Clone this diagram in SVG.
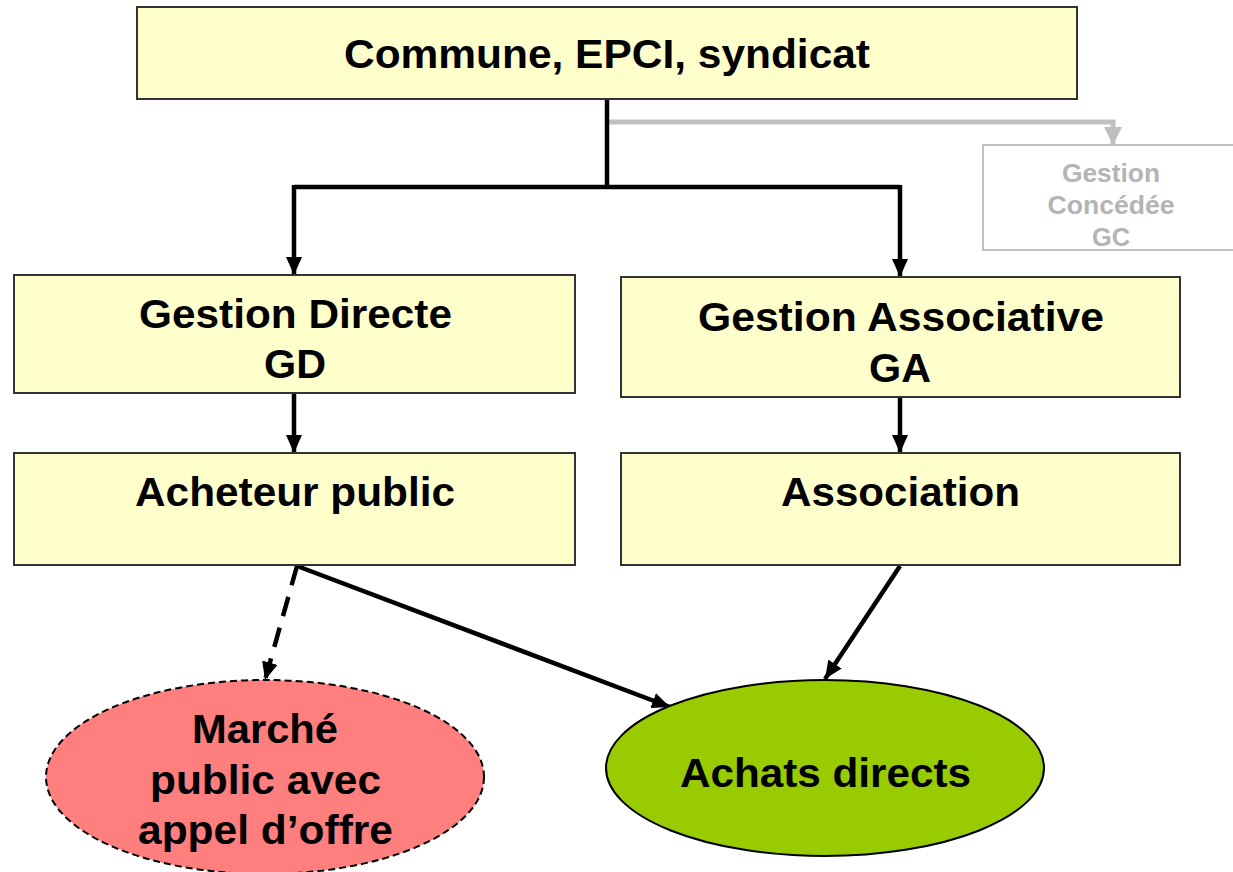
<svg xmlns="http://www.w3.org/2000/svg" width="1233" height="872" viewBox="0 0 1233 872">
<style>
.box{fill:#FFFFCC;stroke:#333;stroke-width:2}
.t{font-family:"Liberation Sans",Arial,sans-serif;font-weight:bold;font-size:40px;fill:#000;text-anchor:middle}
.g{font-family:"Liberation Sans",Arial,sans-serif;font-weight:bold;font-size:26px;fill:#B4B4B4;text-anchor:middle}
.c{fill:none;stroke:#000;stroke-width:4.5}
</style>
<defs>
<marker id="ah" markerWidth="18" markerHeight="16" refX="18" refY="8" orient="auto" markerUnits="userSpaceOnUse"><path d="M0,0 L18,8 L0,16 Z" fill="#000"/></marker>
<marker id="ahg" markerWidth="18" markerHeight="18" refX="18" refY="9" orient="auto" markerUnits="userSpaceOnUse"><path d="M0,0 L18,9 L0,18 Z" fill="#BEBEBE"/></marker>
</defs>
<g id="connectors">
<polyline points="608,122 1113,122 1113,145" fill="none" stroke="#C0C0C0" stroke-width="5" marker-end="url(#ahg)"/>
<polyline class="c" points="607,99 607,187"/>
<polyline class="c" points="294,187 900,187" stroke-width="5"/>
<polyline class="c" points="294,185 294,275" marker-end="url(#ah)"/>
<polyline class="c" points="900,185 900,277" marker-end="url(#ah)"/>
<line class="c" x1="294" y1="393" x2="294" y2="453" marker-end="url(#ah)"/>
<line class="c" x1="900" y1="397" x2="900" y2="453" marker-end="url(#ah)"/>
<line class="c" x1="297" y1="566" x2="265" y2="680" stroke-dasharray="20,12" marker-end="url(#ah)"/>
<line class="c" x1="297" y1="566" x2="670" y2="707" marker-end="url(#ah)"/>
<line class="c" x1="900" y1="566" x2="825" y2="679" marker-end="url(#ah)"/>
</g>
<g id="commune">
<rect class="box" x="137" y="7" width="940" height="92"/>
<text class="t" x="607" y="68" textLength="526" lengthAdjust="spacingAndGlyphs">Commune, EPCI, syndicat</text>
</g>
<g id="gc">
<rect x="983" y="145" width="252" height="105" fill="#fff" stroke="#C0C0C0" stroke-width="2"/>
<text class="g" x="1111" y="182" textLength="98" lengthAdjust="spacingAndGlyphs">Gestion</text>
<text class="g" x="1111" y="214" textLength="127" lengthAdjust="spacingAndGlyphs">Concédée</text>
<text class="g" x="1111" y="246" textLength="38" lengthAdjust="spacingAndGlyphs">GC</text>
</g>
<g id="gd">
<rect class="box" x="14" y="275" width="561" height="118"/>
<text class="t" x="295.5" y="328" textLength="313" lengthAdjust="spacingAndGlyphs">Gestion Directe</text>
<text class="t" x="295" y="378" textLength="62" lengthAdjust="spacingAndGlyphs">GD</text>
</g>
<g id="ga">
<rect class="box" x="621" y="277" width="559" height="120"/>
<text class="t" x="901" y="331" textLength="406" lengthAdjust="spacingAndGlyphs">Gestion Associative</text>
<text class="t" x="900" y="382" textLength="62" lengthAdjust="spacingAndGlyphs">GA</text>
</g>
<g id="acheteur">
<rect class="box" x="14" y="453" width="561" height="112"/>
<text class="t" x="295" y="506" textLength="320" lengthAdjust="spacingAndGlyphs">Acheteur public</text>
</g>
<g id="association">
<rect class="box" x="621" y="453" width="559" height="112"/>
<text class="t" x="900.5" y="506" textLength="239" lengthAdjust="spacingAndGlyphs">Association</text>
</g>
<g id="marche">
<ellipse cx="265" cy="777" rx="219" ry="97" fill="#FF7F7F" stroke="#000" stroke-width="2" stroke-dasharray="7,4"/>
<text class="t" x="265" y="743" textLength="146" lengthAdjust="spacingAndGlyphs">Marché</text>
<text class="t" x="265.5" y="794" textLength="231" lengthAdjust="spacingAndGlyphs">public avec</text>
<text class="t" x="265.5" y="844" textLength="255" lengthAdjust="spacingAndGlyphs">appel d’offre</text>
</g>
<g id="achats">
<ellipse cx="825" cy="768" rx="219" ry="88" fill="#99CC00" stroke="#000" stroke-width="2"/>
<text class="t" x="825.5" y="787" textLength="291" lengthAdjust="spacingAndGlyphs">Achats directs</text>
</g>
</svg>
